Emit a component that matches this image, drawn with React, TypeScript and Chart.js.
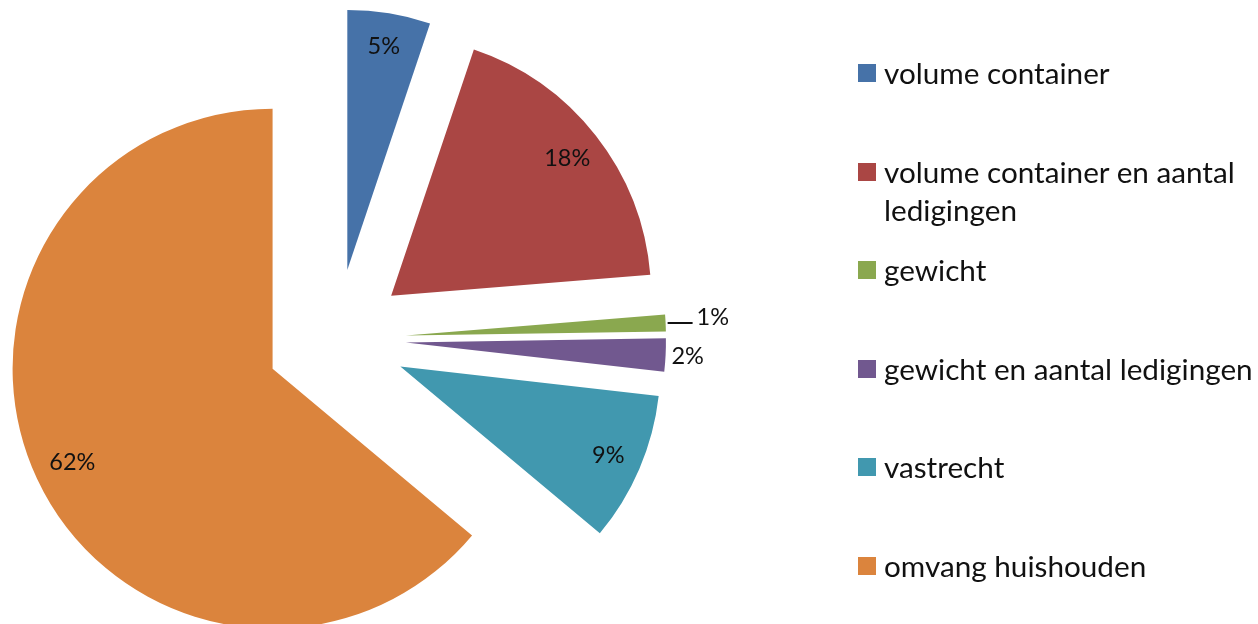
import React, { useEffect, useRef } from "react";
import { Chart, registerables } from "chart.js";

Chart.register(...registerables);

// ---- data ----
const categories = [
  "volume container",
  "volume container en aantal ledigingen",
  "gewicht",
  "gewicht en aantal ledigingen",
  "vastrecht",
  "omvang huishouden",
];
const values = [5, 18, 1, 2, 9, 62];
const valueLabels = ["5%", "18%", "1%", "2%", "9%", "62%"];
const colors = ["#4672A8", "#AA4644", "#8AA84F", "#71588F", "#4198AF", "#DB843D"];

// ---- styling ----
const EXPLODE = 70;
const RADIUS = 260;
const labelFactors = [0.87, 0.86, 1.0, 1.085, 0.87, 0.85];
const leaderSlices = [2];
const FONT = "Lato, 'Open Sans', sans-serif";

const explodePlugin = {
  id: "explode",
  beforeDatasetDraw(chart: any, args: any) {
    const ctx = chart.ctx;
    args.meta.data.forEach((arc: any) => {
      const { startAngle, endAngle } = arc.getProps(["startAngle", "endAngle"], true);
      const mid = (startAngle + endAngle) / 2;
      ctx.save();
      ctx.translate(Math.cos(mid) * EXPLODE, Math.sin(mid) * EXPLODE);
      arc.draw(ctx, chart.chartArea);
      ctx.restore();
    });
    return false;
  },
};

const labelPlugin = {
  id: "sliceLabels",
  afterDatasetsDraw(chart: any) {
    const ctx = chart.ctx;
    const meta = chart.getDatasetMeta(0);
    ctx.save();
    ctx.font = `23.5px ${FONT}`;
    ctx.fillStyle = "#111";
    ctx.strokeStyle = "#111";
    meta.data.forEach((arc: any, i: number) => {
      const { x, y, startAngle, endAngle, outerRadius } = arc.getProps(
        ["x", "y", "startAngle", "endAngle", "outerRadius"],
        true
      );
      const mid = (startAngle + endAngle) / 2;
      const cx = x + Math.cos(mid) * EXPLODE;
      const cy = y + Math.sin(mid) * EXPLODE;
      if (leaderSlices.includes(i)) {
        const ex = cx + Math.cos(mid) * outerRadius;
        const ey = cy + Math.sin(mid) * outerRadius;
        ctx.lineWidth = 2;
        ctx.beginPath();
        ctx.moveTo(ex + 2, ey);
        ctx.lineTo(ex + 27, ey);
        ctx.stroke();
        ctx.textAlign = "left";
        ctx.textBaseline = "middle";
        ctx.fillText(valueLabels[i], ex + 31, ey - 6);
      } else {
        const f = labelFactors[i];
        ctx.textAlign = "center";
        ctx.textBaseline = "middle";
        ctx.fillText(
          valueLabels[i],
          cx + Math.cos(mid) * f * outerRadius,
          cy + Math.sin(mid) * f * outerRadius
        );
      }
    });
    ctx.restore();
  },
};

export default function App() {
  const ref = useRef<HTMLCanvasElement>(null);

  useEffect(() => {
    const chart = new Chart(ref.current as HTMLCanvasElement, {
      type: "pie",
      data: {
        labels: categories,
        datasets: [
          {
            data: values,
            backgroundColor: colors,
            borderWidth: 0,
            offset: 0,
            hoverOffset: 0,
            clip: false,
          } as any,
        ],
      },
      options: {
        responsive: false,
        animation: false,
        devicePixelRatio: 1,
        events: [],
        radius: RADIUS,
        layout: { padding: { left: 4, top: 54, right: 590, bottom: 0 } },
        plugins: {
          legend: { display: false },
          tooltip: { enabled: false },
        },
      } as any,
      plugins: [explodePlugin, labelPlugin],
    });
    return () => chart.destroy();
  }, []);

  return (
    <div
      style={{
        position: "absolute",
        left: 0,
        top: 0,
        width: 1258,
        height: 624,
        background: "#fff",
        overflow: "hidden",
      }}
    >
      <canvas
        ref={ref}
        width={1258}
        height={624}
        style={{ position: "absolute", left: 0, top: 0 }}
      />
      {categories.map((c, i) => {
        const cy = 73 + i * 98.6;
        return (
          <div key={c}>
            <div
              style={{
                position: "absolute",
                left: 858,
                top: cy - 9,
                width: 18,
                height: 18,
                background: colors[i],
              }}
            />
            <div
              style={{
                position: "absolute",
                left: 884,
                top: cy - 19,
                width: 376,
                fontFamily: FONT,
                fontSize: 29.7,
                lineHeight: "38px",
                color: "#111",
              }}
            >
              {c}
            </div>
          </div>
        );
      })}
    </div>
  );
}
